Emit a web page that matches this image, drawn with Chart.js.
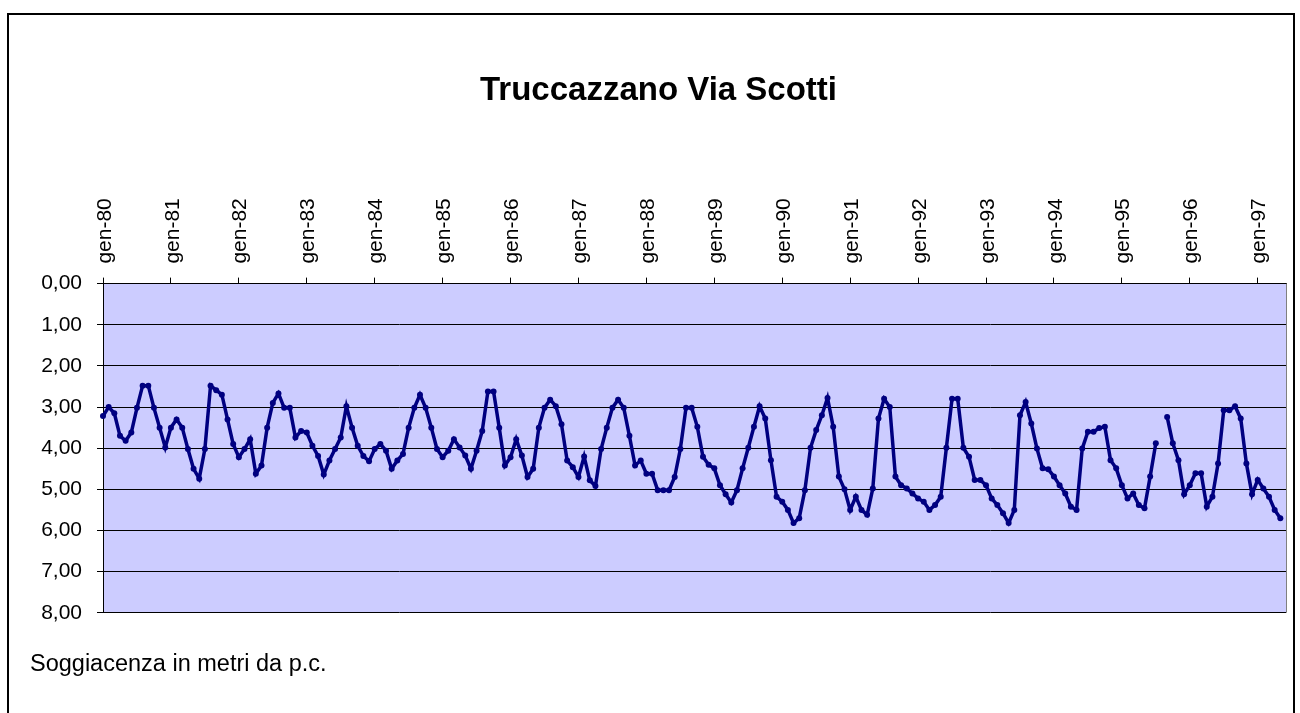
<!DOCTYPE html>
<html lang="it">
<head>
<meta charset="utf-8">
<title>Truccazzano Via Scotti</title>
<script src="https://cdn.jsdelivr.net/npm/chart.js@4/dist/chart.umd.min.js"></script>
<style>
  html, body { margin: 0; padding: 0; background: #ffffff; }
  #page { position: relative; width: 1300px; height: 713px; overflow: hidden; }
  #frame {
    position: absolute; left: 7px; top: 13px; width: 1288px; height: 740px;
    border: 2px solid #000; box-sizing: border-box;
  }
  #chart { position: absolute; left: 0; top: 0; }
</style>
</head>
<body>
<div id="page">
  <div id="frame"></div>
  <canvas id="chart" width="1300" height="713"></canvas>
</div>
<script>
// Italian month abbreviations and the years covered by the record
const monthNames = ['gen', 'feb', 'mar', 'apr', 'mag', 'giu', 'lug', 'ago', 'set', 'ott', 'nov', 'dic'];
const years = ['80', '81', '82', '83', '84', '85', '86', '87', '88', '89',
               '90', '91', '92', '93', '94', '95', '96', '97'];
const monthCount = 210; // gen-80 ... giu-97

// Depth to groundwater below ground level (m), one reading per month
const soggiacenza = [
  3.22, 3.00, 3.15, 3.70, 3.82, 3.62, 3.02, 2.48, 2.48, 3.02, 3.50, 3.98, // 1980
  3.50, 3.30, 3.50, 4.02, 4.50, 4.74, 4.02, 2.48, 2.59, 2.70, 3.30, 3.90, // 1981
  4.22, 4.02, 3.78, 4.62, 4.42, 3.50, 2.90, 2.67, 3.02, 3.02, 3.74, 3.58, // 1982
  3.62, 3.94, 4.19, 4.64, 4.30, 4.02, 3.74, 2.98, 3.50, 3.94, 4.19, 4.32, // 1983
  4.02, 3.90, 4.06, 4.50, 4.30, 4.14, 3.50, 3.02, 2.70, 3.02, 3.50, 4.02, // 1984
  4.22, 4.06, 3.78, 3.98, 4.18, 4.50, 4.06, 3.58, 2.62, 2.62, 3.50, 4.42, // 1985
  4.22, 3.78, 4.18, 4.70, 4.50, 3.50, 3.02, 2.82, 2.98, 3.42, 4.30, 4.46, // 1986
  4.70, 4.20, 4.78, 4.92, 4.02, 3.50, 3.02, 2.82, 3.02, 3.70, 4.42, 4.30, // 1987
  4.62, 4.62, 5.02, 5.02, 5.02, 4.70, 4.02, 3.02, 3.02, 3.48, 4.21, 4.40, // 1988
  4.49, 4.90, 5.12, 5.32, 5.02, 4.49, 3.99, 3.48, 2.98, 3.28, 4.29, 5.18, // 1989
  5.30, 5.50, 5.82, 5.70, 5.02, 3.99, 3.56, 3.20, 2.78, 3.48, 4.69, 5.00, // 1990
  5.50, 5.18, 5.50, 5.62, 4.98, 3.28, 2.80, 3.00, 4.69, 4.90, 4.98, 5.10, // 1991
  5.22, 5.30, 5.50, 5.38, 5.18, 3.99, 2.80, 2.80, 3.99, 4.21, 4.77, 4.77, // 1992
  4.90, 5.22, 5.38, 5.58, 5.82, 5.50, 3.20, 2.88, 3.40, 4.01, 4.49, 4.51, // 1993
  4.69, 4.90, 5.10, 5.42, 5.50, 4.01, 3.60, 3.60, 3.51, 3.48, 4.29, 4.49, // 1994
  4.90, 5.22, 5.10, 5.38, 5.46, 4.69, 3.88, null, 3.24, 3.88, 4.29, 5.12, // 1995
  4.90, 4.61, 4.61, 5.42, 5.18, 4.37, 3.08, 3.08, 2.98, 3.28, 4.37, 5.12, // 1996
  4.77, 4.98, 5.18, 5.50, 5.70, null                                      // 1997
];

// Depth axis ticks (metres), drawn downward
const depthTicks = [0, 1, 2, 3, 4, 5, 6, 7, 8];

// Month categories "gen-80", "feb-80", ...
const categories = [];
years.forEach(y => monthNames.forEach(m => categories.push(m + '-' + y)));
categories.length = monthCount;

const tickFont = { family: "'Liberation Sans', Arial, sans-serif", size: 21 };

// Lavender plot background and grey right edge of the plot area
const plotFrame = {
  id: 'plotFrame',
  beforeDraw(chart) {
    const { ctx, chartArea: a } = chart;
    ctx.save();
    ctx.fillStyle = '#CCCCFF';
    ctx.fillRect(a.left, a.top, a.right - a.left, a.bottom - a.top);
    ctx.restore();
  },
  beforeDatasetsDraw(chart) {
    const { ctx, chartArea: a } = chart;
    ctx.save();
    ctx.strokeStyle = '#808080';
    ctx.lineWidth = 1;
    ctx.beginPath();
    ctx.moveTo(a.right + 0.5, a.top);
    ctx.lineTo(a.right + 0.5, a.bottom);
    ctx.stroke();
    ctx.restore();
  }
};

new Chart(document.getElementById('chart'), {
  type: 'line',
  data: {
    labels: categories,
    datasets: [{
      data: soggiacenza,
      borderColor: '#000080',
      backgroundColor: '#000080',
      borderWidth: 3.5,
      pointRadius: 3,
      pointBorderWidth: 0,
      pointBackgroundColor: '#000080',
      tension: 0,
      spanGaps: false,
      fill: false
    }]
  },
  options: {
    responsive: false,
    animation: false,
    layout: { padding: { left: 30, right: 13, top: 0, bottom: 0 } },
    plugins: {
      legend: { display: false },
      tooltip: { enabled: false },
      title: {
        display: true,
        text: 'Truccazzano Via Scotti',
        color: '#000',
        font: { family: "'Liberation Sans', Arial, sans-serif", size: 33, weight: 'bold' },
        padding: { top: 71, bottom: 10 }
      },
      subtitle: {
        display: true,
        position: 'bottom',
        align: 'start',
        text: 'Soggiacenza in metri da p.c.',
        color: '#000',
        font: { family: "'Liberation Sans', Arial, sans-serif", size: 23.5 },
        padding: { top: 38, bottom: 34 }
      }
    },
    scales: {
      x: {
        type: 'category',
        position: 'top',
        offset: false,
        afterFit(scale) { scale.height = 163; },
        border: { display: true, color: '#000', width: 1 },
        grid: {
          display: true,
          drawOnChartArea: false,
          drawTicks: true,
          tickLength: 6,
          color: ctx => (ctx.index % 12 === 0 ? '#000' : 'rgba(0,0,0,0)')
        },
        ticks: {
          autoSkip: false,
          minRotation: 90,
          maxRotation: 90,
          padding: 14,
          labelOffset: 27,
          color: '#000',
          font: tickFont,
          callback(value, index) {
            return index % 12 === 0 ? this.getLabelForValue(value) : '';
          }
        }
      },
      y: {
        reverse: true,
        min: depthTicks[0],
        max: depthTicks[depthTicks.length - 1],
        afterFit(scale) { scale.width = 73; },
        afterBuildTicks(scale) { scale.ticks = depthTicks.map(v => ({ value: v })); },
        border: { display: true, color: '#000', width: 1 },
        grid: {
          color: '#000',
          lineWidth: 1,
          drawTicks: true,
          tickLength: 6
        },
        ticks: {
          padding: 15,
          color: '#000',
          font: tickFont,
          callback: v => v.toFixed(2).replace('.', ',')
        }
      }
    }
  },
  plugins: [plotFrame]
});
</script>
</body>
</html>
